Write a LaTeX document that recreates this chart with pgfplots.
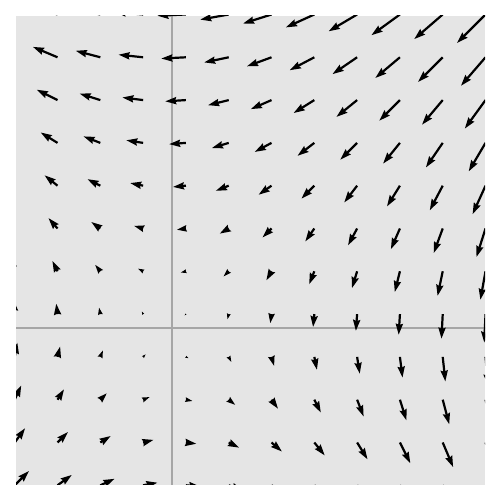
\documentclass[border=0pt]{standalone}
\usepackage{pgfplots}
\pgfplotsset{compat=1.18}
\usepackage{pgfplotstable}
\usetikzlibrary{arrows.meta}
\definecolor{bgc}{RGB}{229,229,229}
\definecolor{axc}{RGB}{166,166,166}
\pgfplotstableread{
x y u v f
-3.675 -3.675 0.3344 0.3344 1
-2.675 -3.675 0.3344 0.2434 1
-1.675 -3.675 0.3344 0.1524 1
-0.675 -3.675 0.3344 0.0614 1
0.325 -3.675 0.3344 -0.0296 1
1.325 -3.675 0.3344 -0.1206 1
2.325 -3.675 0.3344 -0.2116 1
3.325 -3.675 0.3344 -0.3026 1
4.325 -3.675 0.3344 -0.3936 1
5.325 -3.675 0.3344 -0.4846 1
6.325 -3.675 0.3344 -0.5756 1
7.325 -3.675 0.3344 -0.6666 1
-3.675 -2.675 0.2434 0.3344 1
-2.675 -2.675 0.2434 0.2434 1
-1.675 -2.675 0.2434 0.1524 1
-0.675 -2.675 0.2434 0.0614 1
0.325 -2.675 0.2434 -0.0296 1
1.325 -2.675 0.2434 -0.1206 1
2.325 -2.675 0.2434 -0.2116 1
3.325 -2.675 0.2434 -0.3026 1
4.325 -2.675 0.2434 -0.3936 1
5.325 -2.675 0.2434 -0.4846 1
6.325 -2.675 0.2434 -0.5756 1
7.325 -2.675 0.2434 -0.6666 1
-3.675 -1.675 0.1524 0.3344 1
-2.675 -1.675 0.1524 0.2434 1
-1.675 -1.675 0.1524 0.1524 0.89
-0.675 -1.675 0.1524 0.0614 0.68
0.325 -1.675 0.1524 -0.0296 0.64
1.325 -1.675 0.1524 -0.1206 0.80
2.325 -1.675 0.1524 -0.2116 1
3.325 -1.675 0.1524 -0.3026 1
4.325 -1.675 0.1524 -0.3936 1
5.325 -1.675 0.1524 -0.4846 1
6.325 -1.675 0.1524 -0.5756 1
7.325 -1.675 0.1524 -0.6666 1
-3.675 -0.675 0.0614 0.3344 1
-2.675 -0.675 0.0614 0.2434 1
-1.675 -0.675 0.0614 0.1524 0.68
-0.675 -0.675 0.0614 0.0614 0.36
0.325 -0.675 0.0614 -0.0296 0.28
1.325 -0.675 0.0614 -0.1206 0.56
2.325 -0.675 0.0614 -0.2116 0.91
3.325 -0.675 0.0614 -0.3026 1
4.325 -0.675 0.0614 -0.3936 1
5.325 -0.675 0.0614 -0.4846 1
6.325 -0.675 0.0614 -0.5756 1
7.325 -0.675 0.0614 -0.6666 1
-3.675 0.325 -0.0296 0.3344 1
-2.675 0.325 -0.0296 0.2434 1
-1.675 0.325 -0.0296 0.1524 0.64
-0.675 0.325 -0.0296 0.0614 0.28
0.325 0.325 -0.0296 -0.0296 0.17
1.325 0.325 -0.0296 -0.1206 0.51
2.325 0.325 -0.0296 -0.2116 0.88
3.325 0.325 -0.0296 -0.3026 1
4.325 0.325 -0.0296 -0.3936 1
5.325 0.325 -0.0296 -0.4846 1
6.325 0.325 -0.0296 -0.5756 1
7.325 0.325 -0.0296 -0.6666 1
-3.675 1.325 -0.1206 0.3344 1
-2.675 1.325 -0.1206 0.2434 1
-1.675 1.325 -0.1206 0.1524 0.80
-0.675 1.325 -0.1206 0.0614 0.56
0.325 1.325 -0.1206 -0.0296 0.51
1.325 1.325 -0.1206 -0.1206 0.70
2.325 1.325 -0.1206 -0.2116 1
3.325 1.325 -0.1206 -0.3026 1
4.325 1.325 -0.1206 -0.3936 1
5.325 1.325 -0.1206 -0.4846 1
6.325 1.325 -0.1206 -0.5756 1
7.325 1.325 -0.1206 -0.6666 1
-3.675 2.325 -0.2116 0.3344 1
-2.675 2.325 -0.2116 0.2434 1
-1.675 2.325 -0.2116 0.1524 1
-0.675 2.325 -0.2116 0.0614 0.91
0.325 2.325 -0.2116 -0.0296 0.88
1.325 2.325 -0.2116 -0.1206 1
2.325 2.325 -0.2116 -0.2116 1
3.325 2.325 -0.2116 -0.3026 1
4.325 2.325 -0.2116 -0.3936 1
5.325 2.325 -0.2116 -0.4846 1
6.325 2.325 -0.2116 -0.5756 1
7.325 2.325 -0.2116 -0.6666 1
-3.675 3.325 -0.3026 0.3344 1
-2.675 3.325 -0.3026 0.2434 1
-1.675 3.325 -0.3026 0.1524 1
-0.675 3.325 -0.3026 0.0614 1
0.325 3.325 -0.3026 -0.0296 1
1.325 3.325 -0.3026 -0.1206 1
2.325 3.325 -0.3026 -0.2116 1
3.325 3.325 -0.3026 -0.3026 1
4.325 3.325 -0.3026 -0.3936 1
5.325 3.325 -0.3026 -0.4846 1
6.325 3.325 -0.3026 -0.5756 1
7.325 3.325 -0.3026 -0.6666 1
-3.675 4.325 -0.3936 0.3344 1
-2.675 4.325 -0.3936 0.2434 1
-1.675 4.325 -0.3936 0.1524 1
-0.675 4.325 -0.3936 0.0614 1
0.325 4.325 -0.3936 -0.0296 1
1.325 4.325 -0.3936 -0.1206 1
2.325 4.325 -0.3936 -0.2116 1
3.325 4.325 -0.3936 -0.3026 1
4.325 4.325 -0.3936 -0.3936 1
5.325 4.325 -0.3936 -0.4846 1
6.325 4.325 -0.3936 -0.5756 1
7.325 4.325 -0.3936 -0.6666 1
-3.675 5.325 -0.4846 0.3344 1
-2.675 5.325 -0.4846 0.2434 1
-1.675 5.325 -0.4846 0.1524 1
-0.675 5.325 -0.4846 0.0614 1
0.325 5.325 -0.4846 -0.0296 1
1.325 5.325 -0.4846 -0.1206 1
2.325 5.325 -0.4846 -0.2116 1
3.325 5.325 -0.4846 -0.3026 1
4.325 5.325 -0.4846 -0.3936 1
5.325 5.325 -0.4846 -0.4846 1
6.325 5.325 -0.4846 -0.5756 1
7.325 5.325 -0.4846 -0.6666 1
-3.675 6.325 -0.5756 0.3344 1
-2.675 6.325 -0.5756 0.2434 1
-1.675 6.325 -0.5756 0.1524 1
-0.675 6.325 -0.5756 0.0614 1
0.325 6.325 -0.5756 -0.0296 1
1.325 6.325 -0.5756 -0.1206 1
2.325 6.325 -0.5756 -0.2116 1
3.325 6.325 -0.5756 -0.3026 1
4.325 6.325 -0.5756 -0.3936 1
5.325 6.325 -0.5756 -0.4846 1
6.325 6.325 -0.5756 -0.5756 1
7.325 6.325 -0.5756 -0.6666 1
-3.675 7.325 -0.6666 0.3344 1
-2.675 7.325 -0.6666 0.2434 1
-1.675 7.325 -0.6666 0.1524 1
-0.675 7.325 -0.6666 0.0614 1
0.325 7.325 -0.6666 -0.0296 1
1.325 7.325 -0.6666 -0.1206 1
2.325 7.325 -0.6666 -0.2116 1
3.325 7.325 -0.6666 -0.3026 1
4.325 7.325 -0.6666 -0.3936 1
5.325 7.325 -0.6666 -0.4846 1
6.325 7.325 -0.6666 -0.5756 1
7.325 7.325 -0.6666 -0.6666 1
}\field
\begin{document}
\begin{tikzpicture}
\begin{axis}[
  width=469bp, height=469bp, scale only axis,
  xmin=-3.645, xmax=7.313, ymin=-3.668, ymax=7.290,
  ticks=none,
  axis line style={draw=none},
  axis background/.style={fill=bgc},
  point meta min=0, point meta max=1,
]
\addplot[axc, line width=2bp, forget plot] coordinates {(0,-5) (0,9)};
\addplot[axc, line width=2bp, forget plot] coordinates {(-5,0) (9,0)};
\addplot[black, line width=2.2bp,
  quiver={u=\thisrow{u}, v=\thisrow{v},
    every arrow/.append style={
      -{Stealth[length=11bp,width=7bp,inset=1.1bp,scale=\pgfplotspointmetatransformed/1000]},
      line width=2.2bp*\pgfplotspointmetatransformed/1000
    }},
  point meta=\thisrow{f}]
  table[x=x, y=y] {\field};
\end{axis}
\path (-16bp,-15bp) rectangle (484bp,485bp);
\end{tikzpicture}
\end{document}
